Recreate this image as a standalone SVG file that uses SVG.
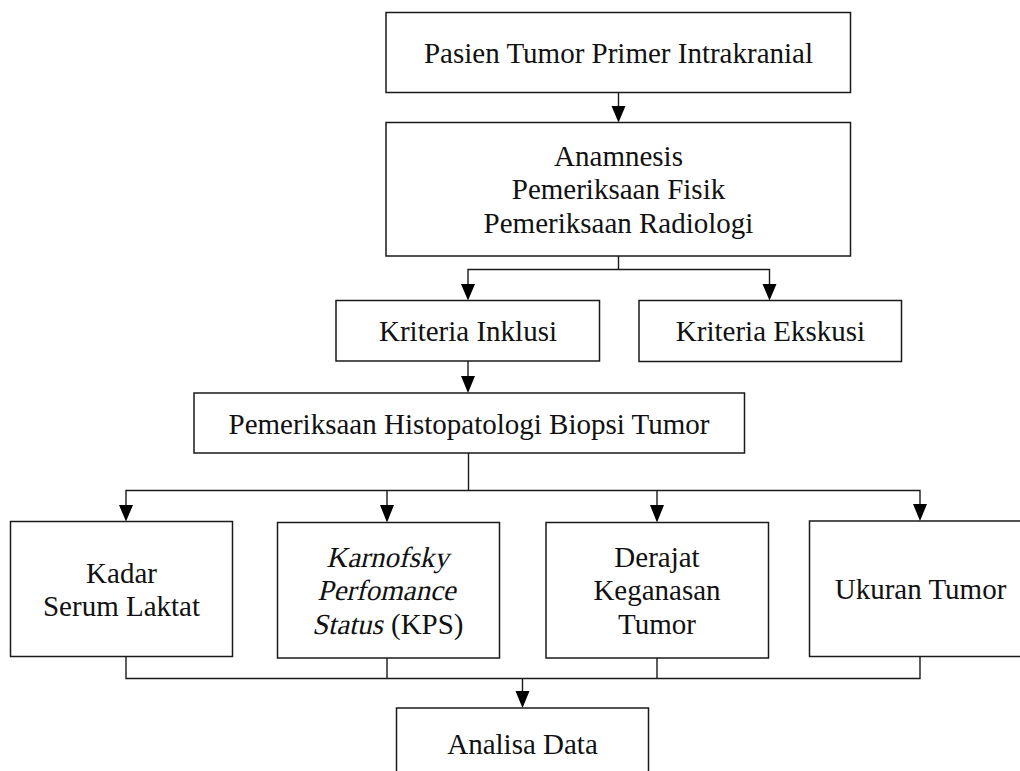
<svg xmlns="http://www.w3.org/2000/svg" width="1020" height="771" viewBox="0 0 1020 771">
<defs>
<style>
.box{fill:#fff;stroke:#1a1a1a;stroke-width:1.5}
.t{font-family:"Liberation Serif","Times New Roman",Times,serif;font-size:29px;fill:#111;text-anchor:middle}
.s{text-anchor:start}
.ln{fill:none;stroke:#1a1a1a;stroke-width:1.4}
.ah{fill:#000}
</style>
</defs>
<rect width="1020" height="771" fill="#fff"/>
<g id="connectors">
<path class="ln" d="M618.5,92 V106"/>
<path class="ah" d="M611.5,106 L625.5,106 L618.5,122.5 Z"/>
<path class="ln" d="M618.5,256 V269.5"/>
<path class="ln" d="M468,284 V269.5 H769.5 V284"/>
<path class="ah" d="M461,284 L475,284 L468,300.5 Z M762.5,284 L776.5,284 L769.5,300.5 Z"/>
<path class="ln" d="M468,361 V376"/>
<path class="ah" d="M461,376 L475,376 L468,393 Z"/>
<path class="ln" d="M468.5,453 V490.5"/>
<path class="ln" d="M126,505 V490.5 H920 V504"/>
<path class="ln" d="M387,490.5 V505 M657,490.5 V505"/>
<path class="ah" d="M119,505 L133,505 L126,521.5 Z M380,505 L394,505 L387,522.5 Z M650,505 L664,505 L657,522.5 Z M913,504 L927,504 L920,521 Z"/>
<path class="ln" d="M126,656.5 V678.5 H920 V656.5 M387,658 V678.5 M657,658 V678.5"/>
<path class="ln" d="M522.5,678.5 V691"/>
<path class="ah" d="M515.5,691 L529.5,691 L522.5,708 Z"/>
</g>
<g id="n1"><rect class="box" x="386" y="12.5" width="464.5" height="80"/><text class="t" x="618.5" y="62.5">Pasien Tumor Primer Intrakranial</text></g>
<g id="n2"><rect class="box" x="386" y="122.5" width="464.5" height="133.5"/>
<text class="t" x="618.5" y="165.5">Anamnesis</text>
<text class="t" x="618.5" y="199">Pemeriksaan Fisik</text>
<text class="t" x="618.5" y="232.5">Pemeriksaan Radiologi</text></g>
<g id="n3"><rect class="box" x="336" y="300.5" width="263.5" height="60.5"/><text class="t" x="468" y="341">Kriteria Inklusi</text></g>
<g id="n4"><rect class="box" x="639" y="300.5" width="262.5" height="61"/><text class="t" x="770.5" y="341">Kriteria Ekskusi</text></g>
<g id="n5"><rect class="box" x="194" y="393" width="550.5" height="60"/><text class="t" x="469" y="434">Pemeriksaan Histopatologi Biopsi Tumor</text></g>
<g id="n6"><rect class="box" x="10.5" y="521.5" width="222" height="135"/>
<text class="t" x="121.5" y="582.5">Kadar</text>
<text class="t" x="121.5" y="616">Serum Laktat</text></g>
<g id="n7"><rect class="box" x="277.5" y="522.5" width="222" height="135.5"/>
<text class="t" transform="translate(387.5,566.5) skewX(-13)" x="0" y="0">Karnofsky</text>
<text class="t" transform="translate(386.5,600) skewX(-13)" x="0" y="0">Perfomance</text>
<text class="t s" transform="translate(312,634) skewX(-13)" x="0" y="0">Status</text>
<text class="t s" x="391" y="634">(KPS)</text></g>
<g id="n8"><rect class="box" x="546" y="522.5" width="222.5" height="135.5"/>
<text class="t" x="657" y="566.5">Derajat</text>
<text class="t" x="657" y="600">Keganasan</text>
<text class="t" x="657" y="634">Tumor</text></g>
<g id="n9"><rect class="box" x="809.5" y="521" width="222" height="135.5"/>
<text class="t" x="920.5" y="599">Ukuran Tumor</text></g>
<g id="n10"><rect class="box" x="396.5" y="708" width="252" height="80"/>
<text class="t" x="522.5" y="754">Analisa Data</text></g>
</svg>
